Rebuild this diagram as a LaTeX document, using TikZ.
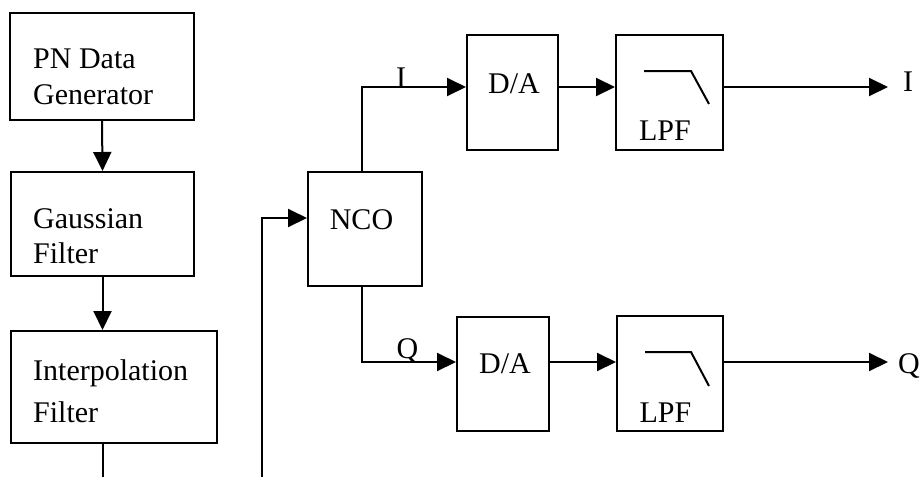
\documentclass[tikz,border=0pt]{standalone}
\usepackage{fontspec}
\setmainfont{Liberation Serif}
\usetikzlibrary{arrows.meta}
\begin{document}
\begin{tikzpicture}[x=1pt,y=-1pt,
  box/.style={draw,line width=2pt,inner sep=0pt},
  txt/.style={inner sep=0pt,font=\fontsize{30}{36}\selectfont},
  conn/.style={line width=2pt},
  arr/.style={line width=2pt,-{Triangle[length=19pt,width=18pt]}}]
\useasboundingbox (0,0) rectangle (921,477);
% boxes
\node[box,minimum width=184pt,minimum height=107pt] (pn) at (102,66.5) {};
\node[box,minimum width=183pt,minimum height=104pt] (gauss) at (102.5,224) {};
\node[box,minimum width=206pt,minimum height=112pt] (interp) at (114,387) {};
\node[box,minimum width=114pt,minimum height=114pt] (nco) at (365,229) {};
\node[box,minimum width=91pt,minimum height=115pt] (da1) at (512.5,92.5) {};
\node[box,minimum width=92pt,minimum height=114pt] (da2) at (503,374) {};
\node[box,minimum width=107pt,minimum height=115pt] (lpf1) at (669.5,92.5) {};
\node[box,minimum width=106pt,minimum height=115pt] (lpf2) at (670,373.5) {};
% texts
\node[txt,anchor=base west] (pnt1) at (33,68) {PN Data};
\node[txt,anchor=base west] (pnt2) at (33,104) {Generator};
\node[txt,anchor=base west] (gt1) at (33,228) {Gaussian};
\node[txt,anchor=base west] (gt2) at (33,263) {Filter};
\node[txt,anchor=base west] (it1) at (33,380) {Interpolation};
\node[txt,anchor=base west] (it2) at (33,422) {Filter};
\node[txt,anchor=base] (ncot) at (361.5,229) {NCO};
\node[txt,anchor=base] (da1t) at (514,93) {D/A};
\node[txt,anchor=base] (da2t) at (505,373) {D/A};
\node[txt,anchor=base] (lpf1t) at (665,140) {LPF};
\node[txt,anchor=base] (lpf2t) at (665.5,422) {LPF};
\node[txt,anchor=base] (il) at (401,87) {I};
\node[txt,anchor=base] (ql) at (407.5,358) {Q};
\node[txt,anchor=base west] (iout) at (903,91) {I};
\node[txt,anchor=base east] (qout) at (920,373) {Q};
% filter symbols
\draw[conn] ([shift={(-25.5,-21.5)}]lpf1.center) -- ([shift={(21.5,-21.5)}]lpf1.center) -- ([shift={(39.5,11.5)}]lpf1.center);
\draw[conn] ([shift={(-25,-21.5)}]lpf2.center) -- ([shift={(21,-21.5)}]lpf2.center) -- ([shift={(39,12.5)}]lpf2.center);
% coordinates
\coordinate (r1) at (0,87);
\coordinate (r2) at (0,362);
\coordinate (e1) at (103,477);
\coordinate (s) at (262,477);
\coordinate (nin) at (0,218);
\coordinate (o1) at (888,87);
\coordinate (o2) at (888,362);
\coordinate (ntop) at (362,0);
% connectors
\draw[arr] (pn.south) -- (gauss.north);
\draw[arr] (gauss.south) -- (gauss.south |- interp.north);
\draw[conn] (e1 |- interp.south) -- (e1);
\draw[arr] (s) |- (nco.west |- nin);
\draw[arr] (ntop |- nco.north) |- (da1.west |- r1);
\draw[arr] (ntop |- nco.south) |- (da2.west |- r2);
\draw[arr] (da1.east |- r1) -- (lpf1.west |- r1);
\draw[arr] (da2.east |- r2) -- (lpf2.west |- r2);
\draw[arr] (lpf1.east |- r1) -- (o1);
\draw[arr] (lpf2.east |- r2) -- (o2);
\end{tikzpicture}
\end{document}
